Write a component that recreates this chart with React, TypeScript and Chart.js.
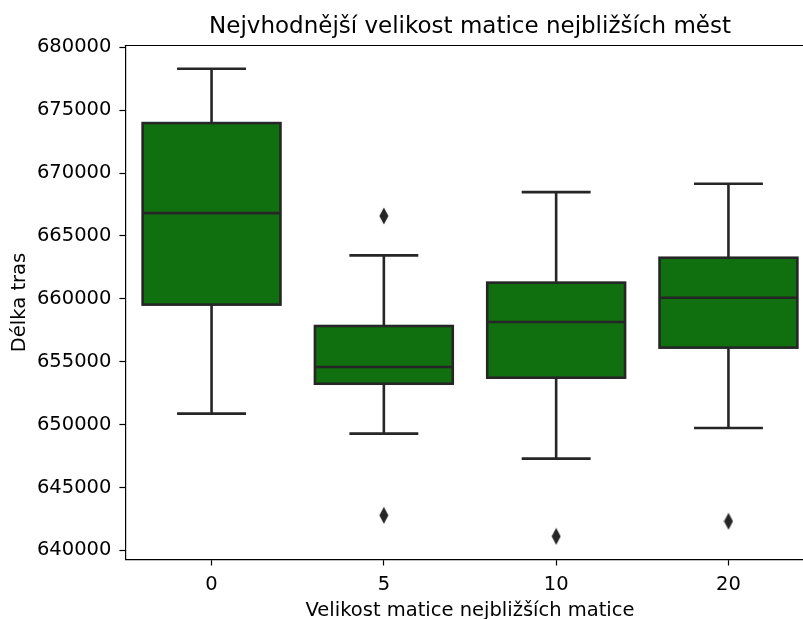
import React, { useEffect, useRef } from "react";
import { Chart, registerables } from "chart.js";

Chart.register(...registerables);

const chartTitle = "Nejvhodnější velikost matice nejbližších měst";
const xTitle = "Velikost matice nejbližších matice";
const yTitle = "Délka tras";
const categories = ["0", "5", "10", "20"];
const whiskerLow = [650870, 649280, 647290, 649730];
const q1 = [659540, 653250, 653730, 656120];
const median = [666820, 654580, 658160, 660090];
const q3 = [673980, 657840, 661290, 663270];
const whiskerHigh = [678300, 663460, 668490, 669160];
const outlierCategory = [1, 1, 2, 3];
const outlierValues = [666590, 642780, 641110, 642310];
const yTicks = [640000, 645000, 650000, 655000, 660000, 665000, 670000, 675000, 680000];

const FILL = "#107010";
const EDGE = "#262626";
const FONT = "'DejaVu Sans', sans-serif";

function makeDiamond(): HTMLCanvasElement {
  const c = document.createElement("canvas");
  c.width = 10;
  c.height = 18;
  const ctx = c.getContext("2d")!;
  ctx.fillStyle = EDGE;
  ctx.beginPath();
  ctx.moveTo(5, 0.5);
  ctx.lineTo(9.5, 9);
  ctx.lineTo(5, 17.5);
  ctx.lineTo(0.5, 9);
  ctx.closePath();
  ctx.fill();
  return c;
}

const boxPlugin = {
  id: "boxParts",
  afterDatasetsDraw(chart: any) {
    const { ctx, scales, chartArea } = chart;
    const xs = scales.x;
    const ys = scales.y;
    const meta = chart.getDatasetMeta(0);
    ctx.save();
    ctx.strokeStyle = EDGE;
    ctx.lineWidth = 2.6;
    ctx.lineCap = "butt";
    categories.forEach((_, i) => {
      const cx = xs.getPixelForValue(i);
      const bar = meta.data[i];
      const half = bar.width / 2;
      const yQ1 = ys.getPixelForValue(q1[i]);
      const yQ3 = ys.getPixelForValue(q3[i]);
      const yMed = ys.getPixelForValue(median[i]);
      const yLo = ys.getPixelForValue(whiskerLow[i]);
      const yHi = ys.getPixelForValue(whiskerHigh[i]);
      const capHalf = half / 2;
      ctx.beginPath();
      ctx.moveTo(cx, yQ1);
      ctx.lineTo(cx, yLo);
      ctx.moveTo(cx, yQ3);
      ctx.lineTo(cx, yHi);
      ctx.moveTo(cx - capHalf, yLo);
      ctx.lineTo(cx + capHalf, yLo);
      ctx.moveTo(cx - capHalf, yHi);
      ctx.lineTo(cx + capHalf, yHi);
      ctx.moveTo(cx - half, yMed);
      ctx.lineTo(cx + half, yMed);
      ctx.stroke();
      ctx.strokeRect(cx - half, yQ3, half * 2, yQ1 - yQ3);
    });
    ctx.strokeStyle = "#000";
    ctx.lineWidth = 1.2;
    ctx.beginPath();
    ctx.moveTo(chartArea.left - 0.6, chartArea.top);
    ctx.lineTo(chartArea.right, chartArea.top);
    ctx.stroke();
    // title centred over the plot area
    ctx.fillStyle = "#000";
    ctx.font = `23px ${FONT}`;
    ctx.textAlign = "center";
    ctx.textBaseline = "alphabetic";
    ctx.fillText(chartTitle, (chartArea.left + chartArea.right) / 2, 33.3);
    ctx.restore();
  },
};

export default function App() {
  const ref = useRef<HTMLCanvasElement>(null);
  useEffect(() => {
    if (!ref.current) return;
    const diamond = makeDiamond();
    const chart = new Chart(ref.current, {
      type: "bar",
      data: {
        datasets: [
          {
            type: "bar",
            data: categories.map((_, i) => ({ x: i, y: [q1[i], q3[i]] })) as any,
            backgroundColor: FILL,
            borderWidth: 0,
            barPercentage: 1,
            categoryPercentage: 0.8,
          },
          {
            type: "scatter",
            data: outlierCategory.map((c, i) => ({ x: c, y: outlierValues[i] })),
            pointStyle: diamond as any,
            pointRadius: 5,
            backgroundColor: EDGE,
            borderColor: EDGE,
          } as any,
        ],
      },
      options: {
        animation: false,
        responsive: false,
        events: [],
        layout: { padding: { left: 0, right: 15.4, top: 45.5, bottom: 0 } },
        plugins: {
          legend: { display: false },
          tooltip: { enabled: false },
          title: { display: false },
        },
        scales: {
          x: {
            type: "linear",
            min: -0.5,
            max: 3.5,
            offset: false,
            afterBuildTicks: (s: any) => {
              s.ticks = categories.map((_, i) => ({ value: i }));
            },
            afterFit: (s: any) => {
              s.height = 63.5;
            },
            ticks: {
              callback: (v: any) => categories[v] ?? "",
              color: "#000",
              font: { family: FONT, size: 19.5 },
              padding: 8,
              autoSkip: false,
              maxRotation: 0,
            },
            grid: {
              offset: false,
              drawOnChartArea: false,
              drawTicks: true,
              tickLength: 6,
              tickColor: "#000",
              tickWidth: 1.2,
            },
            border: { display: true, color: "#000", width: 1.2 },
            title: {
              display: true,
              text: xTitle,
              color: "#000",
              font: { family: FONT, size: 19.5 },
              padding: { top: 0, bottom: 0 },
            },
          },
          y: {
            type: "linear",
            min: 639270,
            max: 680150,
            afterBuildTicks: (s: any) => {
              s.ticks = yTicks.map((v) => ({ value: v }));
            },
            afterFit: (s: any) => {
              s.width = 125.4;
            },
            ticks: {
              callback: (v: any) => String(v),
              color: "#000",
              font: { family: FONT, size: 19.5 },
              padding: 8,
            },
            grid: {
              drawOnChartArea: false,
              drawTicks: true,
              tickLength: 6,
              tickColor: "#000",
              tickWidth: 1.2,
            },
            border: { display: true, color: "#000", width: 1.2 },
            title: {
              display: true,
              text: yTitle,
              color: "#000",
              font: { family: FONT, size: 19.5 },
              padding: { top: 8, bottom: 0 },
            },
          },
        },
      },
      plugins: [boxPlugin],
    });
    return () => chart.destroy();
  }, []);
  return (
    <div
      style={{
        position: "fixed",
        left: 0,
        top: 0,
        width: 803,
        height: 619,
        overflow: "hidden",
        background: "#fff",
      }}
    >
      <canvas ref={ref} width={830} height={623} style={{ display: "block" }} />
    </div>
  );
}
